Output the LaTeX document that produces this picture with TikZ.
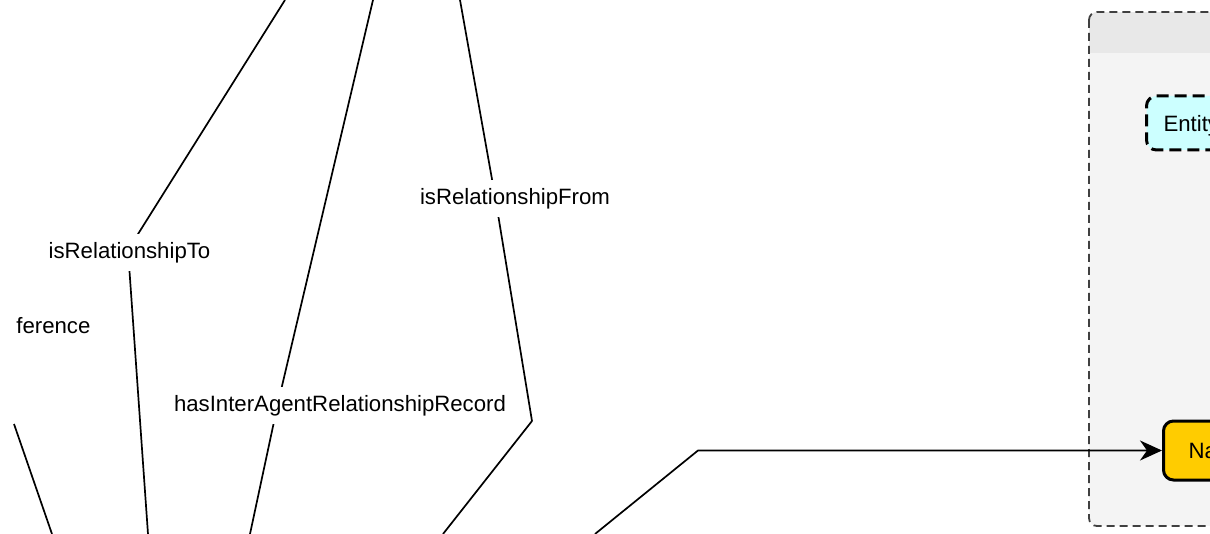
\documentclass[tikz,border=0pt]{standalone}
\usepackage{fontspec}
\setmainfont{Liberation Sans}
\usepackage{tikz}
\usetikzlibrary{arrows.meta}
\definecolor{hdrgray}{HTML}{E8E8E8}
\definecolor{bodygray}{HTML}{F4F4F4}
\definecolor{entcyan}{HTML}{CCFFFF}
\definecolor{nameyellow}{HTML}{FFCC00}
\tikzset{rel/.style={fill=white, inner xsep=2pt, inner ysep=4.2pt, font=\fontsize{11.1}{13}\selectfont},
         conn/.style={line width=0.85pt, line join=round},
         cls/.style={anchor=west, rounded corners=5pt, line width=1.5pt, text width=80pt, align=left,
                     font=\fontsize{11.1}{13}\selectfont}}

\begin{document}
\begin{tikzpicture}[x=0.5pt,y=-0.5pt]
\useasboundingbox (0,0) rectangle (1210,534);
\clip (0,0) rectangle (1210,534);
\begin{scope}
\clip [rounded corners=4pt] (1089,12) rectangle (1320,526);
\fill [bodygray] (1089,12) rectangle (1320,526);
\fill [hdrgray] (1089,12) rectangle (1320,53);
\end{scope}
\draw [dash pattern=on 4pt off 2.5pt, line width=0.9pt, rounded corners=4pt, black!75] (1089,12) rectangle (1320,526);
\node [cls, draw, dash pattern=on 6pt off 3pt, fill=entcyan, minimum height=27pt, inner xsep=8.5pt,
       text height=9pt, text depth=0pt] (entity) at (1145,123) {Entity};
\node [cls, draw, fill=nameyellow, minimum height=29.5pt, inner xsep=12.5pt] (name) at (1162,450.5) {Na};
\coordinate (toTop) at (285,0);
\coordinate (toMid) at (128,250);
\coordinate (toBot) at (148,534);
\coordinate (recTop) at (373,0);
\coordinate (recMid) at (278,403);
\coordinate (recBot) at (250,534);
\coordinate (fromTop) at (460,0);
\coordinate (fromMid) at (495,196);
\coordinate (fromBend) at (532,421);
\coordinate (fromBot) at (443,534);
\coordinate (refTop) at (14,424);
\coordinate (refBot) at (52,534);
\coordinate (nameStart) at (595,534);
\coordinate (nameBend) at (698,450.5);
\draw [conn] (toTop) -- (toMid) -- (toBot);
\draw [conn] (recTop) -- (recMid) -- (recBot);
\draw [conn] (fromTop) -- (fromMid) -- (fromBend) -- (fromBot);
\draw [conn] (refTop) -- (refBot);
\draw [conn, -{Stealth[length=11pt, width=10pt, inset=3.5pt]}] (nameStart) -- (nameBend) -- (name.west);
\node [rel] (lblTo) at (129.5,252.5) {isRelationshipTo};
\node [rel] (lblRec) at (340,405.5) {hasInterAgentRelationshipRecord};
\node [rel] (lblFrom) at (515,198.5) {isRelationshipFrom};
\node [rel, anchor=west, inner xsep=0pt] (lblRef) at (16,326) {ference};
\end{tikzpicture}
\end{document}
